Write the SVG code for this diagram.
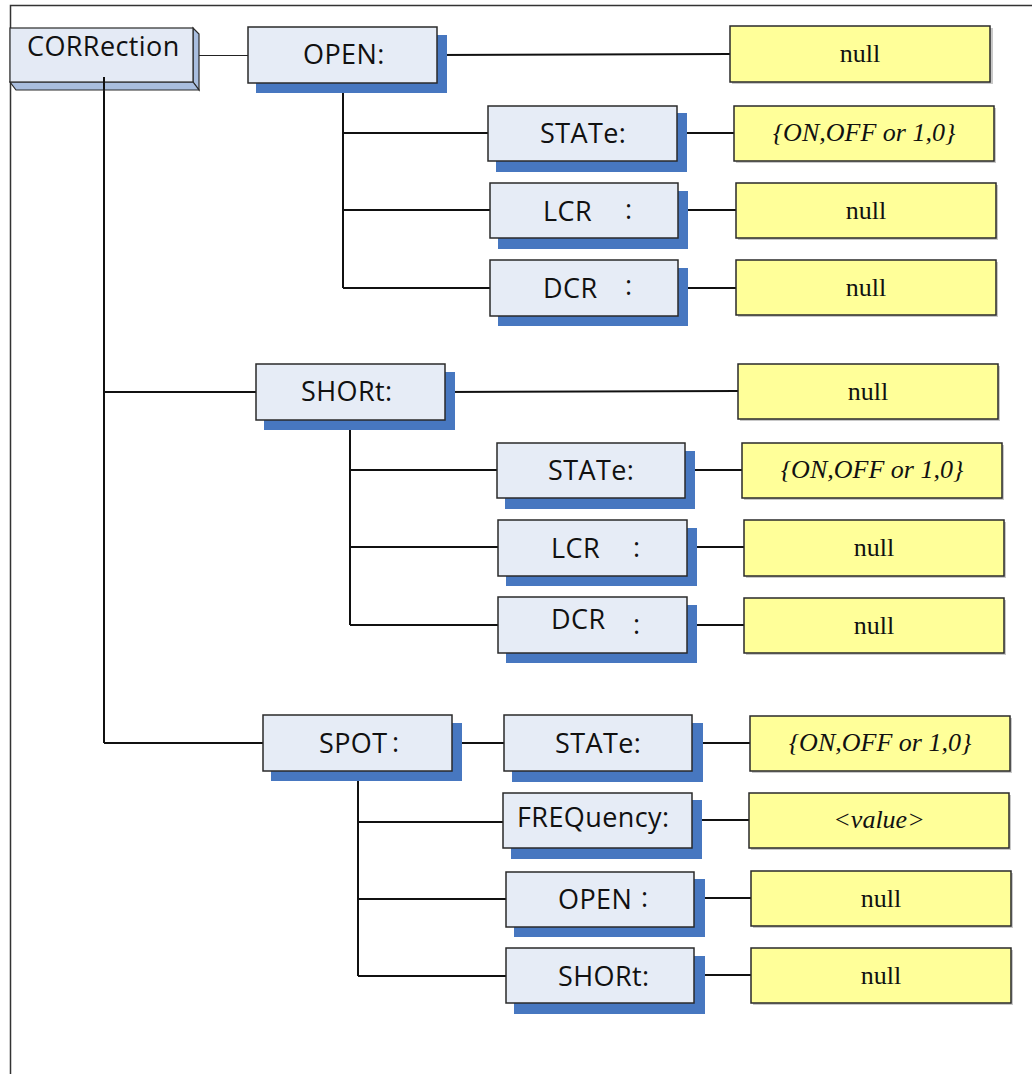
<svg xmlns="http://www.w3.org/2000/svg" width="1032" height="1074" viewBox="0 0 1032 1074">
<style>
.sh{fill:#4777C0}
.bx{fill:#E6ECF6;stroke:#2a2a2a;stroke-width:1.5}
.yb{fill:#FFFF99;stroke:#2a2a2a;stroke-width:1.5}
.ys{fill:#c8c8c8}
.lb{font-family:"Open Sans","Noto Sans",sans-serif;font-size:27px;letter-spacing:0.4px;fill:#111}
.yt{font-family:"Liberation Serif",serif;font-size:26px;fill:#111;text-anchor:middle}
.it{font-style:italic}
.ln{stroke:#111;stroke-width:2;fill:none}
.thin{stroke:#222;stroke-width:1.2;fill:none}
</style>
<rect width="1032" height="1074" fill="#fff"/>
<path d="M10.5,1074 V5.5 H1032" stroke="#333" stroke-width="1.5" fill="none"/>

<g id="connectors">
<path class="thin" d="M199,55.5 H248"/>
<path class="ln" d="M104,77 V743 M104,392 H256 M104,743 H263"/>
<path class="ln" d="M437,55 L730,54"/>
<path class="ln" d="M343,83 V288 M343,133 H488 M343,210 H490 M343,288 H490"/>
<path class="ln" d="M677,133 H734 M678,210 H736 M678,288 H736"/>
<path class="ln" d="M445,392 L738,391"/>
<path class="ln" d="M350,420 V625 M350,470 H497 M350,547 H498 M350,625 H498"/>
<path class="ln" d="M685,470 H742 M687,547 H744 M687,625 H744"/>
<path class="ln" d="M452,743 H504 M358,771 V976 M358,822 H503 M358,899 H506 M358,976 H506"/>
<path class="ln" d="M692,743 H750 M692,820 H749 M694,898 H751 M694,975 H751"/>
</g>

<g id="n-correction">
<polygon points="193,28 199,34 199,90 193,82" fill="#A9BEDF" stroke="#2a2a2a" stroke-width="1.2"/>
<polygon points="10,82 193,82 199,90 16,90" fill="#A9BEDF" stroke="#2a2a2a" stroke-width="1.2"/>
<rect x="10" y="28" width="183" height="54" fill="#E4EAF5" stroke="#2a2a2a" stroke-width="1.2"/>
<text class="lb" x="27" y="56" font-size="28">CORRection</text>
<path class="ln" d="M104,77 V90"/>
</g>

<g id="n-open">
<rect class="sh" x="256" y="35" width="191" height="58"/>
<rect class="bx" x="248" y="27" width="189" height="56"/>
<text class="lb" x="303" y="64">OPEN:</text>
</g>
<g id="n-open-state">
<rect class="sh" x="496" y="113" width="191" height="59"/>
<rect class="bx" x="488" y="106" width="189" height="55"/>
<text class="lb" x="540" y="143">STATe:</text>
</g>
<g id="n-open-lcr">
<rect class="sh" x="498" y="191" width="190" height="58"/>
<rect class="bx" x="490" y="183" width="188" height="55"/>
<text class="lb" x="543" y="221">LCR</text><text class="lb" x="625" y="219">:</text>
</g>
<g id="n-open-dcr">
<rect class="sh" x="498" y="268" width="190" height="58"/>
<rect class="bx" x="490" y="260" width="188" height="56"/>
<text class="lb" x="543" y="298">DCR</text><text class="lb" x="625" y="295">:</text>
</g>

<g id="n-short">
<rect class="sh" x="264" y="372" width="191" height="58"/>
<rect class="bx" x="256" y="364" width="189" height="56"/>
<text class="lb" x="301" y="401">SHORt:</text>
</g>
<g id="n-short-state">
<rect class="sh" x="505" y="451" width="190" height="58"/>
<rect class="bx" x="497" y="443" width="188" height="55"/>
<text class="lb" x="548" y="480">STATe:</text>
</g>
<g id="n-short-lcr">
<rect class="sh" x="506" y="528" width="191" height="58"/>
<rect class="bx" x="498" y="520" width="189" height="56"/>
<text class="lb" x="551" y="558">LCR</text><text class="lb" x="633" y="557">:</text>
</g>
<g id="n-short-dcr">
<rect class="sh" x="506" y="605" width="191" height="58"/>
<rect class="bx" x="498" y="597" width="189" height="56"/>
<text class="lb" x="551" y="629">DCR</text><text class="lb" x="633" y="634">:</text>
</g>

<g id="n-spot">
<rect class="sh" x="271" y="723" width="191" height="58"/>
<rect class="bx" x="263" y="715" width="189" height="56"/>
<text class="lb" x="319" y="753">SPOT</text><text class="lb" x="392" y="752">:</text>
</g>
<g id="n-spot-state">
<rect class="sh" x="512" y="723" width="191" height="59"/>
<rect class="bx" x="504" y="715" width="188" height="56"/>
<text class="lb" x="555" y="753">STATe:</text>
</g>
<g id="n-spot-freq">
<rect class="sh" x="511" y="800" width="191" height="59"/>
<rect class="bx" x="503" y="793" width="189" height="55"/>
<text class="lb" x="517" y="827">FREQuency:</text>
</g>
<g id="n-spot-open">
<rect class="sh" x="514" y="879" width="191" height="58"/>
<rect class="bx" x="506" y="872" width="188" height="55"/>
<text class="lb" x="558" y="909">OPEN</text><text class="lb" x="641" y="907">:</text>
</g>
<g id="n-spot-short">
<rect class="sh" x="514" y="956" width="191" height="58"/>
<rect class="bx" x="506" y="948" width="188" height="55"/>
<text class="lb" x="558" y="986">SHORt:</text>
</g>

<g id="v-open-null"><rect class="ys" x="732" y="28" width="261" height="56"/><rect class="yb" x="730" y="26" width="260" height="56"/><text class="yt" x="860" y="62">null</text></g>
<g id="v-open-state"><rect class="ys" x="736" y="108" width="260" height="55"/><rect class="yb" x="734" y="106" width="260" height="55"/><text class="yt it" x="864" y="141">{ON,OFF or 1,0}</text></g>
<g id="v-open-lcr"><rect class="ys" x="738" y="185" width="260" height="55"/><rect class="yb" x="736" y="183" width="260" height="55"/><text class="yt" x="866" y="219">null</text></g>
<g id="v-open-dcr"><rect class="ys" x="738" y="262" width="260" height="55"/><rect class="yb" x="736" y="260" width="260" height="55"/><text class="yt" x="866" y="296">null</text></g>
<g id="v-short-null"><rect class="ys" x="740" y="366" width="260" height="55"/><rect class="yb" x="738" y="364" width="260" height="55"/><text class="yt" x="868" y="400">null</text></g>
<g id="v-short-state"><rect class="ys" x="744" y="445" width="260" height="55"/><rect class="yb" x="742" y="443" width="260" height="55"/><text class="yt it" x="872" y="478">{ON,OFF or 1,0}</text></g>
<g id="v-short-lcr"><rect class="ys" x="746" y="522" width="260" height="56"/><rect class="yb" x="744" y="520" width="260" height="56"/><text class="yt" x="874" y="556">null</text></g>
<g id="v-short-dcr"><rect class="ys" x="746" y="600" width="260" height="55"/><rect class="yb" x="744" y="598" width="260" height="55"/><text class="yt" x="874" y="634">null</text></g>
<g id="v-spot-state"><rect class="ys" x="752" y="718" width="260" height="55"/><rect class="yb" x="750" y="716" width="260" height="55"/><text class="yt it" x="880" y="751">{ON,OFF or 1,0}</text></g>
<g id="v-spot-freq"><rect class="ys" x="751" y="795" width="260" height="55"/><rect class="yb" x="749" y="793" width="260" height="55"/><text class="yt it" x="879" y="828">&lt;value&gt;</text></g>
<g id="v-spot-open"><rect class="ys" x="753" y="873" width="260" height="55"/><rect class="yb" x="751" y="871" width="260" height="55"/><text class="yt" x="881" y="907">null</text></g>
<g id="v-spot-short"><rect class="ys" x="753" y="950" width="260" height="55"/><rect class="yb" x="751" y="948" width="260" height="55"/><text class="yt" x="881" y="984">null</text></g>
</svg>
